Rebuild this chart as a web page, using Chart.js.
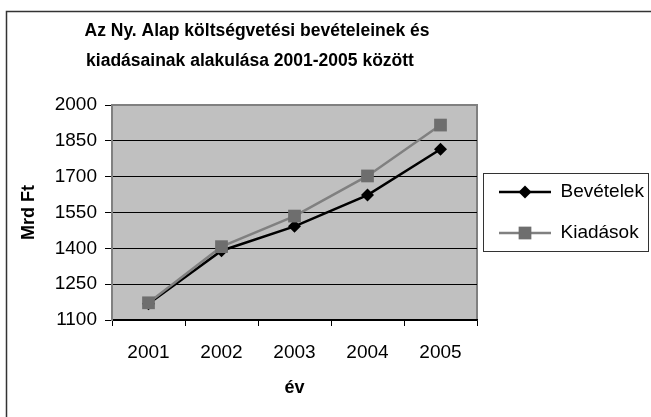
<!DOCTYPE html>
<html>
<head>
<meta charset="utf-8">
<script src="https://cdn.jsdelivr.net/npm/chart.js@4"></script>
<style>
  html, body { margin: 0; padding: 0; background: #fff; }
  #wrap { position: relative; width: 651px; height: 417px; }
</style>
</head>
<body>
<div id="wrap"><canvas id="myChart" width="651" height="417"></canvas></div>
<script>
const years = ['2001', '2002', '2003', '2004', '2005'];
const bevetelek = [1168, 1390, 1492, 1623, 1815];
const kiadasok = [1172, 1407, 1535, 1703, 1916];
const titleLines = ['Az Ny. Alap költségvetési bevételeinek és', 'kiadásainak alakulása 2001-2005 között'];

Chart.defaults.font.family = "'Liberation Sans', Arial, sans-serif";
Chart.defaults.color = '#000';

const LEG_W = 52;
const PAD_L = -45; // widens the layout so the right legend can be 174px wide

function marker(c, ds, x, y) {
  c.fillStyle = ds.backgroundColor;
  c.beginPath();
  if (ds.pointStyle === 'rectRot') {
    const r = ds.pointRadius;
    c.moveTo(x, y - r); c.lineTo(x + r, y); c.lineTo(x, y + r); c.lineTo(x - r, y);
  } else {
    const s = ds.pointRadius * Math.SQRT1_2;
    c.rect(x - s, y - s, 2 * s, 2 * s);
  }
  c.closePath();
  c.fill();
}

// plot background, outer frame, title, legend frame + markers
const decor = {
  id: 'decor',
  beforeDraw(chart) {
    const c = chart.ctx, a = chart.chartArea;
    c.save();
    c.fillStyle = '#fff';
    c.fillRect(0, 0, chart.width, chart.height);
    c.strokeStyle = '#333';
    c.lineWidth = 1.5;
    c.strokeRect(6.5, 11.5, 800, 600);
    c.fillStyle = '#c0c0c0';
    c.fillRect(a.left, a.top, a.right - a.left, a.bottom - a.top);
    c.strokeStyle = '#808080';
    c.lineWidth = 2;
    c.strokeRect(a.left, a.top, a.right - a.left, a.bottom - a.top);

    c.fillStyle = '#000';
    c.font = "bold 17.5px 'Liberation Sans', Arial, sans-serif";
    c.textAlign = 'center';
    c.textBaseline = 'middle';
    c.fillText(titleLines[0], 257, 31);
    c.fillText(titleLines[1], 250, 61);

    const lg = chart.legend;
    if (lg && lg.legendHitBoxes && lg.legendHitBoxes.length) {
      const hb = lg.legendHitBoxes;
      const first = hb[0], last = hb[hb.length - 1];
      const x0 = Math.round(first.left - 16), y0 = Math.round(first.top - 10);
      const y1 = Math.round(last.top + last.height + 8);
      c.strokeStyle = '#333';
      c.lineWidth = 1;
      c.strokeRect(x0 + 0.5, y0 + 0.5, 648 - x0, y1 - y0);
    }
    c.restore();
  },
  afterDraw(chart) {
    const lg = chart.legend;
    if (!lg || !lg.legendHitBoxes) return;
    const c = chart.ctx;
    c.save();
    lg.legendHitBoxes.forEach((b, i) => {
      const ds = chart.data.datasets[lg.legendItems[i].datasetIndex];
      marker(c, ds, b.left + LEG_W / 2, b.top + b.height / 2);
    });
    c.restore();
  }
};

new Chart(document.getElementById('myChart'), {
  type: 'line',
  data: {
    labels: years,
    datasets: [{
      label: 'Bevételek',
      data: bevetelek,
      borderColor: '#000',
      backgroundColor: '#000',
      borderWidth: 2.5,
      pointStyle: 'rectRot',
      pointRadius: 6.5,
      pointBorderWidth: 0,
      order: 2,
      tension: 0
    }, {
      label: 'Kiadások',
      data: kiadasok,
      borderColor: '#808080',
      backgroundColor: '#6e6e6e',
      borderWidth: 2.5,
      pointStyle: 'rect',
      pointRadius: 9,
      pointBorderWidth: 0,
      order: 1,
      tension: 0
    }]
  },
  options: {
    responsive: false,
    animation: false,
    devicePixelRatio: 1,
    layout: { padding: { top: 105, left: PAD_L, right: 0, bottom: 0 } },
    plugins: {
      title: { display: false },
      tooltip: { enabled: false },
      legend: {
        position: 'right',
        fullSize: false,
        labels: {
          usePointStyle: true,
          pointStyleWidth: LEG_W,
          padding: 22,
          font: { size: 19 },
          color: '#000',
          sort: (a, b) => a.datasetIndex - b.datasetIndex,
          generateLabels(chart) {
            const items = Chart.defaults.plugins.legend.labels.generateLabels(chart);
            return items.map(it => Object.assign(it, {
              pointStyle: 'line',
              lineWidth: 2.5,
              strokeStyle: chart.data.datasets[it.datasetIndex].borderColor
            }));
          }
        }
      }
    },
    scales: {
      x: {
        offset: true,
        afterFit(s) { s.height = 97; },
        grid: { display: true, drawOnChartArea: false, offset: true, tickLength: 6, tickColor: '#000' },
        border: { color: '#000', width: 1.5 },
        ticks: { font: { size: 19 }, padding: 15, color: '#000' },
        title: { display: true, text: 'év', font: { size: 18, weight: 'bold' }, padding: { top: 0, bottom: 18 } }
      },
      y: {
        min: 1100,
        max: 2000,
        afterFit(s) { s.width = 112 - PAD_L; },
        ticks: { stepSize: 150, font: { size: 19 }, padding: 8, color: '#000', callback: v => String(v) },
        grid: {
          color: ctx => (ctx.tick && ctx.tick.value === 2000) ? '#808080' : '#000',
          lineWidth: 1,
          tickLength: 7,
          tickColor: '#000'
        },
        border: { color: '#808080', width: 2 },
        title: { display: true, text: 'Mrd Ft', font: { size: 18, weight: 'bold' }, padding: { top: 18 - PAD_L, bottom: 0 } }
      }
    }
  },
  plugins: [decor]
});
</script>
</body>
</html>
